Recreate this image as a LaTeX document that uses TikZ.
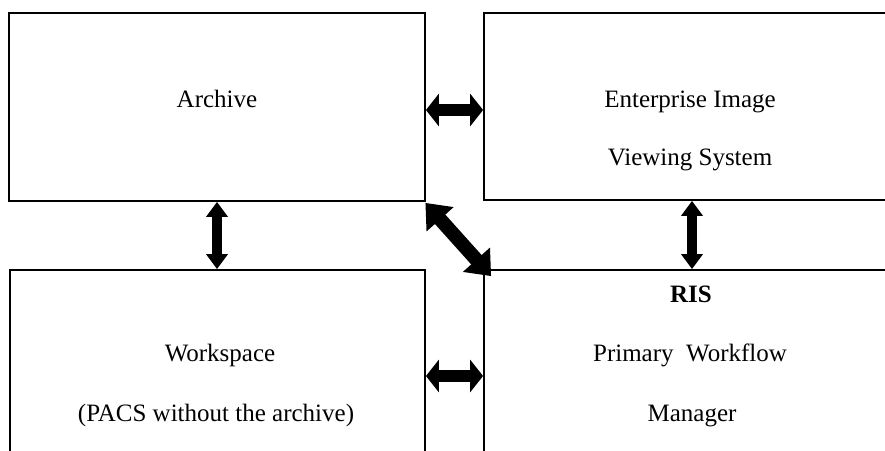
\documentclass[tikz,border=0pt]{standalone}
\usepackage{fontspec}
\setmainfont{Liberation Serif}
\usetikzlibrary{arrows.meta,calc}
\begin{document}
\begin{tikzpicture}[x=1pt,y=-1pt,
  box/.style={draw=black, line width=1.8pt, rectangle, inner sep=0pt},
  txt/.style={anchor=base, inner sep=0pt, font=\fontsize{25}{30}\selectfont},
  harrow/.style={line width=12.5pt, {Triangle[length=13pt,width=32pt]}-{Triangle[length=13pt,width=32pt]}},
  varrow/.style={line width=10pt, {Triangle[length=15pt,width=21pt]}-{Triangle[length=15pt,width=21pt]}},
  darrow/.style={line width=14pt, {Triangle[length=22pt,width=35pt]}-{Triangle[length=22pt,width=35pt]}}]
\useasboundingbox (0,0) rectangle (885,450);
\clip (0,0) rectangle (885,450);
\fill[white] (0,0) rectangle (885,450);
% boxes
\node[box, minimum width=416pt, minimum height=188pt] (archive) at (217,107) {};
\node[box, minimum width=416pt, minimum height=187pt] (enterprise) at (692,106.5) {};
\node[box, minimum width=415pt, minimum height=200pt] (workspace) at (217.5,370) {};
\node[box, minimum width=416pt, minimum height=200pt] (ris) at (692,370) {};
% texts
\node[txt] (tarchive) at (217,107) {Archive};
\node[txt] (tent1) at (690,107) {Enterprise Image};
\node[txt] (tent2) at (690,165) {Viewing System};
\node[txt] (twork1) at (220,361) {Workspace};
\node[txt] (twork2) at (216,421) {(PACS without the archive)};
\node[txt, font=\fontsize{25}{30}\selectfont\bfseries] (tris1) at (691,302) {RIS};
\node[txt] (tris2) at (690,361) {Primary\ \ Workflow};
\node[txt] (tris3) at (692,421) {Manager};
% connectors
\draw[harrow] ([yshift=-3pt]archive.east) -- ([yshift=-3pt]archive.east -| enterprise.west);
\draw[varrow] (archive.south) -- (archive.south |- workspace.north);
\draw[varrow] (enterprise.south) -- (enterprise.south |- ris.north);
\draw[harrow] ([yshift=-6pt]workspace.east) -- ([yshift=-6pt]workspace.east -| ris.west);
\coordinate (dtip) at ([shift={(8pt,-7pt)}]ris.north west);
\draw[darrow] ([shift={(-0.5pt,-1pt)}]archive.south east) -- (dtip);
\end{tikzpicture}
\end{document}
